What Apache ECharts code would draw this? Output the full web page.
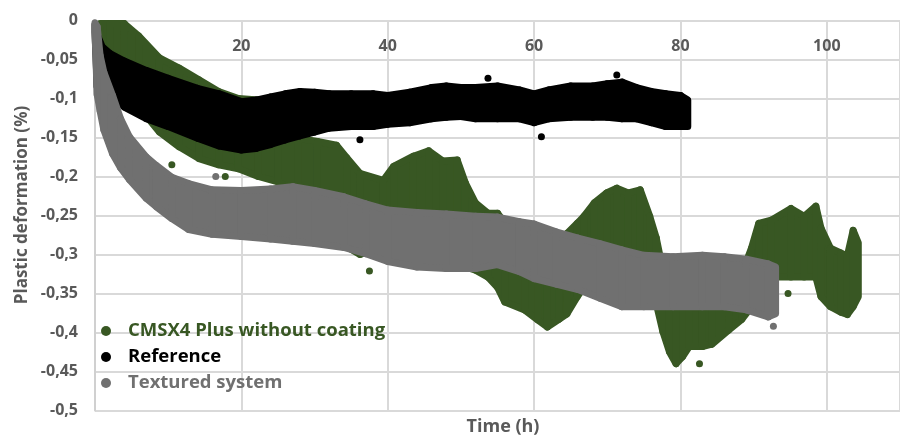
<!DOCTYPE html>
<html>
<head>
<meta charset="utf-8">
<script src="https://cdn.jsdelivr.net/npm/echarts@6/dist/echarts.min.js"></script>
<style>
html,body{margin:0;padding:0;background:#fff;}
#c{width:900px;height:437px;}
</style>
</head>
<body>
<div id="c"></div>
<script>
// ---- data ----
// CMSX4 Plus without coating: time (h), upper and lower edge of the point cloud (%)
const greenT  = [0.7, 2, 4, 6, 8.8, 11.5, 14.2, 16.9, 19.6, 22.3, 25, 27.7, 30.4, 33, 34.4, 36.2, 39.4, 40.8, 43.5, 45.6, 47.5, 49.5, 50.6, 52, 53.7, 55, 56, 58.7, 60.5, 61.8, 63.4, 64.5, 65.9, 66.8, 68.2, 69.9, 71.3, 72.9, 74.5, 75.8, 76.7, 77.6, 78.5, 79.4, 80.3, 81.2, 83, 84.3, 86.6, 88.4, 89.7, 90.7, 92.4, 95.1, 96.9, 98.5, 99.2, 100.5, 101.9, 102.8, 103.6, 104.3];
const greenHi = [-0.004, -0.004, -0.004, -0.02, -0.048, -0.061, -0.076, -0.091, -0.1, -0.102, -0.106, -0.151, -0.155, -0.16, -0.176, -0.196, -0.205, -0.187, -0.174, -0.167, -0.18, -0.179, -0.208, -0.234, -0.247, -0.247, -0.26, -0.273, -0.275, -0.279, -0.279, -0.273, -0.26, -0.251, -0.234, -0.221, -0.215, -0.221, -0.217, -0.251, -0.279, -0.32, -0.35, -0.362, -0.369, -0.369, -0.369, -0.362, -0.35, -0.324, -0.292, -0.26, -0.256, -0.241, -0.251, -0.238, -0.266, -0.292, -0.298, -0.302, -0.269, -0.285];
const greenLo = [-0.015, -0.047, -0.079, -0.111, -0.143, -0.162, -0.177, -0.185, -0.19, -0.2, -0.207, -0.22, -0.226, -0.233, -0.29, -0.3, -0.29, -0.29, -0.297, -0.3, -0.306, -0.313, -0.316, -0.32, -0.329, -0.342, -0.361, -0.371, -0.384, -0.393, -0.383, -0.376, -0.354, -0.342, -0.329, -0.322, -0.316, -0.322, -0.342, -0.354, -0.363, -0.399, -0.425, -0.44, -0.431, -0.418, -0.418, -0.415, -0.397, -0.383, -0.367, -0.342, -0.329, -0.329, -0.329, -0.329, -0.354, -0.367, -0.374, -0.377, -0.367, -0.354];
const greenOutT = [10.5, 17.8, 37.5, 82.6, 94.7];
const greenOutV = [-0.185, -0.2, -0.321, -0.44, -0.35];

// Reference
const blackT  = [0, 0.3, 1, 2, 4, 7, 10, 14, 17, 20, 22, 24, 26, 28, 30, 32, 35, 38, 40, 43, 46, 48, 50, 52, 55, 58, 60, 62, 65, 68, 70, 72, 74, 76, 78, 80, 81];
const blackHi = [-0.005, -0.018, -0.034, -0.042, -0.052, -0.064, -0.074, -0.087, -0.094, -0.104, -0.102, -0.098, -0.094, -0.091, -0.092, -0.094, -0.094, -0.094, -0.096, -0.092, -0.086, -0.084, -0.086, -0.086, -0.084, -0.089, -0.094, -0.089, -0.084, -0.084, -0.081, -0.079, -0.086, -0.091, -0.094, -0.096, -0.102];
const blackLo = [-0.015, -0.085, -0.094, -0.096, -0.111, -0.126, -0.136, -0.151, -0.161, -0.166, -0.164, -0.159, -0.153, -0.148, -0.143, -0.138, -0.136, -0.136, -0.133, -0.131, -0.126, -0.124, -0.123, -0.126, -0.126, -0.126, -0.131, -0.126, -0.124, -0.124, -0.124, -0.126, -0.126, -0.131, -0.136, -0.136, -0.136];
const blackOutT = [36.2, 53.7, 61, 71.3];
const blackOutV = [-0.153, -0.074, -0.149, -0.07];

// Textured system
const grayT  = [0, 0.3, 0.7, 1.2, 2.4, 3.5, 4.7, 7, 8.4, 10.5, 12.8, 16, 20, 24, 27, 30, 34, 37, 40, 44, 48, 52, 55, 58, 60, 63, 66, 69, 72, 75, 79, 83, 86, 89, 92, 93];
const grayHi = [-0.003, -0.008, -0.045, -0.066, -0.096, -0.126, -0.149, -0.175, -0.186, -0.201, -0.209, -0.217, -0.218, -0.216, -0.213, -0.218, -0.226, -0.235, -0.243, -0.246, -0.248, -0.251, -0.252, -0.258, -0.261, -0.271, -0.279, -0.286, -0.294, -0.301, -0.303, -0.301, -0.303, -0.306, -0.312, -0.316];
const grayLo = [-0.015, -0.095, -0.116, -0.14, -0.171, -0.189, -0.204, -0.228, -0.239, -0.254, -0.268, -0.274, -0.277, -0.28, -0.283, -0.286, -0.291, -0.299, -0.309, -0.316, -0.318, -0.318, -0.313, -0.322, -0.331, -0.338, -0.345, -0.356, -0.367, -0.367, -0.367, -0.367, -0.367, -0.371, -0.38, -0.376];
const grayOutT = [16.5, 92.7];
const grayOutV = [-0.2, -0.392];

const seriesNames = ['CMSX4 Plus without coating', 'Reference', 'Textured system'];
const xTitle = 'Time (h)';
const yTitle = 'Plastic deformation (%)';

// ---- styling ----
const C_GREEN = '#385723', C_BLACK = '#000000', C_GRAY = '#707070';
const TXT = '#595959';
const FONT = '"Open Sans", "Liberation Sans", sans-serif';

// Band of dense points: each item joins sample i and i+1 (time, upper, lower)
function band(color, T, Hi, Lo) {
  const data = [];
  for (let i = 0; i < T.length - 1; i++) {
    data.push([T[i], Hi[i], Lo[i], T[i + 1], Hi[i + 1], Lo[i + 1]]);
  }
  return {
    type: 'custom', silent: true, legendHoverLink: false,
    encode: {x: [0, 3], y: [1, 2, 4, 5]},
    data: data,
    renderItem: function (params, api) {
      const a = api.coord([api.value(0), api.value(1)]);
      const b = api.coord([api.value(3), api.value(4)]);
      const c = api.coord([api.value(3), api.value(5)]);
      const d = api.coord([api.value(0), api.value(2)]);
      return {
        type: 'polygon',
        shape: {points: [a, b, c, d]},
        style: {fill: color, stroke: color, lineWidth: 7, lineJoin: 'round'}
      };
    }
  };
}
function pts(name, color, T, V) {
  return {type: 'scatter', name: name, symbolSize: 7, itemStyle: {color: color, opacity: 1},
          data: T.map((t, i) => [t, V[i]])};
}

const chart = echarts.init(document.getElementById('c'), null, {renderer: 'canvas'});
chart.setOption({
  animation: false,
  backgroundColor: '#ffffff',
  grid: {left: 95, top: 20.5, height: 390, right: -10},
  xAxis: {
    type: 'value', position: 'top', min: 0, max: 110, interval: 20,
    axisLine: {show: false}, axisTick: {show: false},
    axisLabel: {inside: true, margin: 18, showMinLabel: false, showMaxLabel: false,
                color: TXT, fontFamily: FONT, fontWeight: 'bold', fontSize: 16},
    splitLine: {show: true, lineStyle: {color: '#d9d9d9', width: 2}}
  },
  yAxis: {
    type: 'value', min: -0.5, max: 0, interval: 0.05,
    axisLine: {show: true, onZero: false, lineStyle: {color: '#d0d0d0', width: 2}},
    axisTick: {show: false},
    axisLabel: {margin: 17, color: TXT, fontFamily: FONT, fontWeight: 'bold', fontSize: 16,
                formatter: v => String(parseFloat(v.toFixed(2))).replace('.', ',')},
    splitLine: {show: true, lineStyle: {color: '#d9d9d9', width: 2}}
  },
  legend: {
    orient: 'vertical', left: 96, top: 316, itemGap: 6, itemWidth: 34, itemHeight: 10,
    icon: 'circle',
    textStyle: {fontFamily: FONT, fontWeight: 'bold', fontSize: 18.5, lineHeight: 20},
    data: [
      {name: seriesNames[0], textStyle: {color: C_GREEN}},
      {name: seriesNames[1], textStyle: {color: C_BLACK}},
      {name: seriesNames[2], textStyle: {color: C_GRAY}}
    ]
  },
  graphic: [
    {type: 'text', x: 503, y: 427,
     style: {text: xTitle, fill: TXT, font: 'bold 18px ' + FONT, align: 'center', verticalAlign: 'middle'}},
    {type: 'text', x: 22, y: 205, rotation: Math.PI / 2,
     style: {text: yTitle, fill: TXT, font: 'bold 17px ' + FONT, align: 'center', verticalAlign: 'middle'}}
  ],
  series: [
    band(C_GREEN, greenT, greenHi, greenLo),
    pts(seriesNames[0], C_GREEN, greenOutT, greenOutV),
    band(C_BLACK, blackT, blackHi, blackLo),
    pts(seriesNames[1], C_BLACK, blackOutT, blackOutV),
    band(C_GRAY, grayT, grayHi, grayLo),
    pts(seriesNames[2], C_GRAY, grayOutT, grayOutV)
  ]
});
</script>
</body>
</html>
